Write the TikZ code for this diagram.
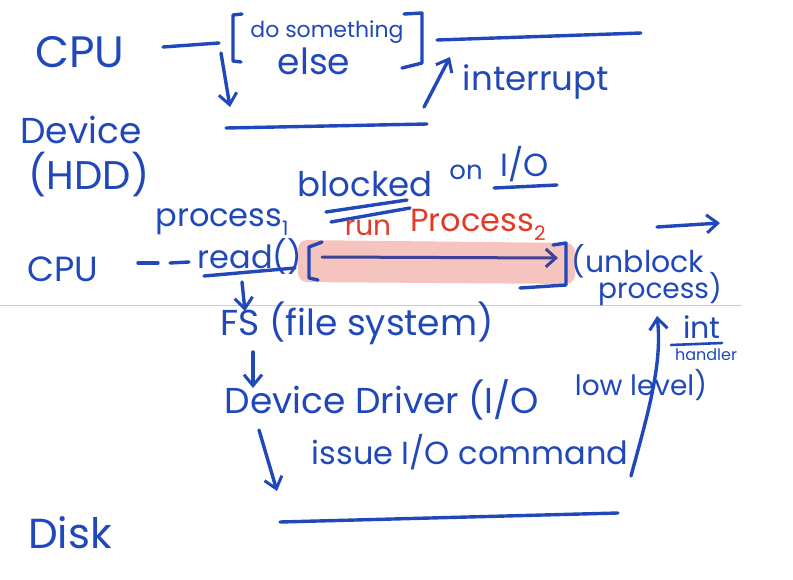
\documentclass[tikz,border=0pt]{standalone}
\usepackage{fontspec}
\setmainfont{Poppins}
\usetikzlibrary{arrows.meta}
\definecolor{ink}{RGB}{32,72,186}
\definecolor{redink}{RGB}{226,58,38}
\definecolor{hl}{RGB}{246,196,190}
\definecolor{deepink}{RGB}{62,66,150}
\newcommand{\fs}[1]{\fontsize{#1}{#1}\selectfont}
\newcommand{\sub}[2]{\raisebox{-0.3em}{\fs{#1}#2}}
\tikzset{
  hw/.style={inner sep=0pt, text=ink, font=\fs{#1}},
  hwred/.style={inner sep=0pt, text=redink, font=\fs{#1}},
  stroke/.style={draw=ink, line width=3.4pt, line cap=round, line join=round},
  thin stroke/.style={draw=ink, line width=2.6pt, line cap=round, line join=round},
  arr/.style={stroke, -{Straight Barb[length=11pt,width=18pt,line width=3pt]}},
}
\begin{document}
\begin{tikzpicture}[x=1pt,y=-1pt]
\useasboundingbox (0,0) rectangle (793,579);
% gray ruled line
\coordinate (g1) at (0,305); \coordinate (g2) at (742,305);
\draw[gray!40, line width=1pt] (g1) -- (g2);
% pink highlight
\fill[hl, rounded corners=9pt] (298,240) -- (575,243) -- (575,284) -- (298,282) -- cycle;

% ---- top: CPU / Device timeline
\node[hw=44] (cpu1) at (80,52) {CPU};
\node[hw=22] (dosome) at (327,32) {do something};
\node[hw=36] (else) at (314,61) {else};
\node[hw=34] (intr) at (536,82) {interrupt};
\node[hw=36] (dev) at (81,130) {Device};
\node[hw=40] (hdd) at (89,175) {(HDD)};

\coordinate (c1a) at (163,47); \coordinate (c1b) at (219,43);
\draw[stroke] (c1a) -- (c1b);
\coordinate (lb1) at (242,14); \coordinate (lb2) at (241,62);
\draw[stroke] (lb1) -- (233,15) -- (233,61) -- (lb2);
\coordinate (rb1) at (404,14); \coordinate (rb2) at (402,68);
\draw[stroke] (rb1) -- (422,13) -- (422,63) -- (rb2);
\coordinate (c2a) at (437,40); \coordinate (c2b) at (641,33);
\draw[stroke] (c2a) -- (c2b);
\coordinate (da1) at (221,53); \coordinate (da2) at (230,107);
\draw[arr] (da1) -- (da2);
\coordinate (ia1) at (424,107); \coordinate (ia2) at (450,57);
\draw[arr] (ia1) -- (ia2);
\coordinate (d1a) at (226,128); \coordinate (d1b) at (427,124);
\draw[stroke] (d1a) -- (d1b);

% ---- middle: blocked on I/O
\node[hw=34] (blocked) at (365,184) {blocked};
\node[hw=26] (on) at (466,172) {on};
\node[hw=32] (io) at (525,164) {I/O};
\coordinate (u1a) at (494,188); \coordinate (u1b) at (557,185);
\draw[stroke] (u1a) -- (u1b);
\coordinate (u2a) at (326,212); \coordinate (u2b) at (407,200);
\draw[stroke] (u2a) -- (u2b);
\coordinate (u3a) at (331,222); \coordinate (u3b) at (410,208);
\draw[stroke] (u3a) -- (u3b);
\node[hwred=28] (run) at (368,228) {run};
\node[hwred=32] (proc2) at (478,225) {Process\sub{20}{2}};

\node[hw=32] (proc1) at (222,222) {process\sub{20}{1}};
\node[hw=35] (cpu2) at (63,269) {CPU};
\coordinate (dd1a) at (138,263); \coordinate (dd1b) at (158,263);
\draw[stroke] (dd1a) -- (dd1b);
\coordinate (dd2a) at (170,263); \coordinate (dd2b) at (189,262);
\draw[stroke] (dd2a) -- (dd2b);
\node[hw=32] (read) at (250,257) {read()};
\coordinate (ru1) at (204,276); \coordinate (ru2) at (295,268);
\draw[stroke] (ru1) -- (ru2);
\coordinate (lb3) at (322,242); \coordinate (lb4) at (318,280);
\draw[stroke] (lb3) -- (309,247) -- (309,278) -- (lb4);
\coordinate (pa1) at (322,257); \coordinate (pa2) at (558,258);
\draw[draw=deepink, line width=3pt, line cap=round, -{Straight Barb[length=10pt,width=18pt,line width=3pt]}] (pa1) -- (pa2);
\coordinate (rb3) at (553,245); \coordinate (rb4) at (520,288);
\draw[stroke] (rb3) -- (566,243) -- (566,285) -- (rb4);
\node[hw=30] (unblock) at (638,261) {(unblock};
\node[hw=28] (proc) at (660,289) {process)};
\coordinate (ra1) at (657,227); \coordinate (ra2) at (720,223);
\draw[arr] (ra1) -- (ra2);

% ---- lower: file system chain
\node[hw=36] (fs) at (357,323) {FS (file system)};
\coordinate (ra3) at (242,282); \coordinate (ra4) at (245,311);
\draw[arr] (ra3) -- (ra4);
\node[hw=36] (drv) at (382,400) {Device Driver (I/O};
\node[hw=28] (low) at (641,385) {low level)};
\coordinate (fa1) at (253,352); \coordinate (fa2) at (253,388);
\draw[arr] (fa1) -- (fa2);
\node[hw=32] (issue) at (470,452) {issue I/O command};
\coordinate (ea1) at (259,430); \coordinate (ea2) at (277,491);
\draw[arr] (ea1) -- (ea2);
\coordinate (ih1) at (631,476); \coordinate (ih2) at (657,316);
\draw[arr] (ih1) .. controls (646,420) and (663,365) .. (ih2);
\node[hw=30] (int) at (702,327) {int};
\coordinate (iu1) at (671,345); \coordinate (iu2) at (722,343);
\draw[thin stroke] (iu1) -- (iu2);
\node[hw=16] (handler) at (706,355) {handler};
\node[hw=42] (disk) at (70,533) {Disk};
\coordinate (dk1) at (280,522); \coordinate (dk2) at (618,513);
\draw[stroke] (dk1) -- (dk2);
\end{tikzpicture}
\end{document}
